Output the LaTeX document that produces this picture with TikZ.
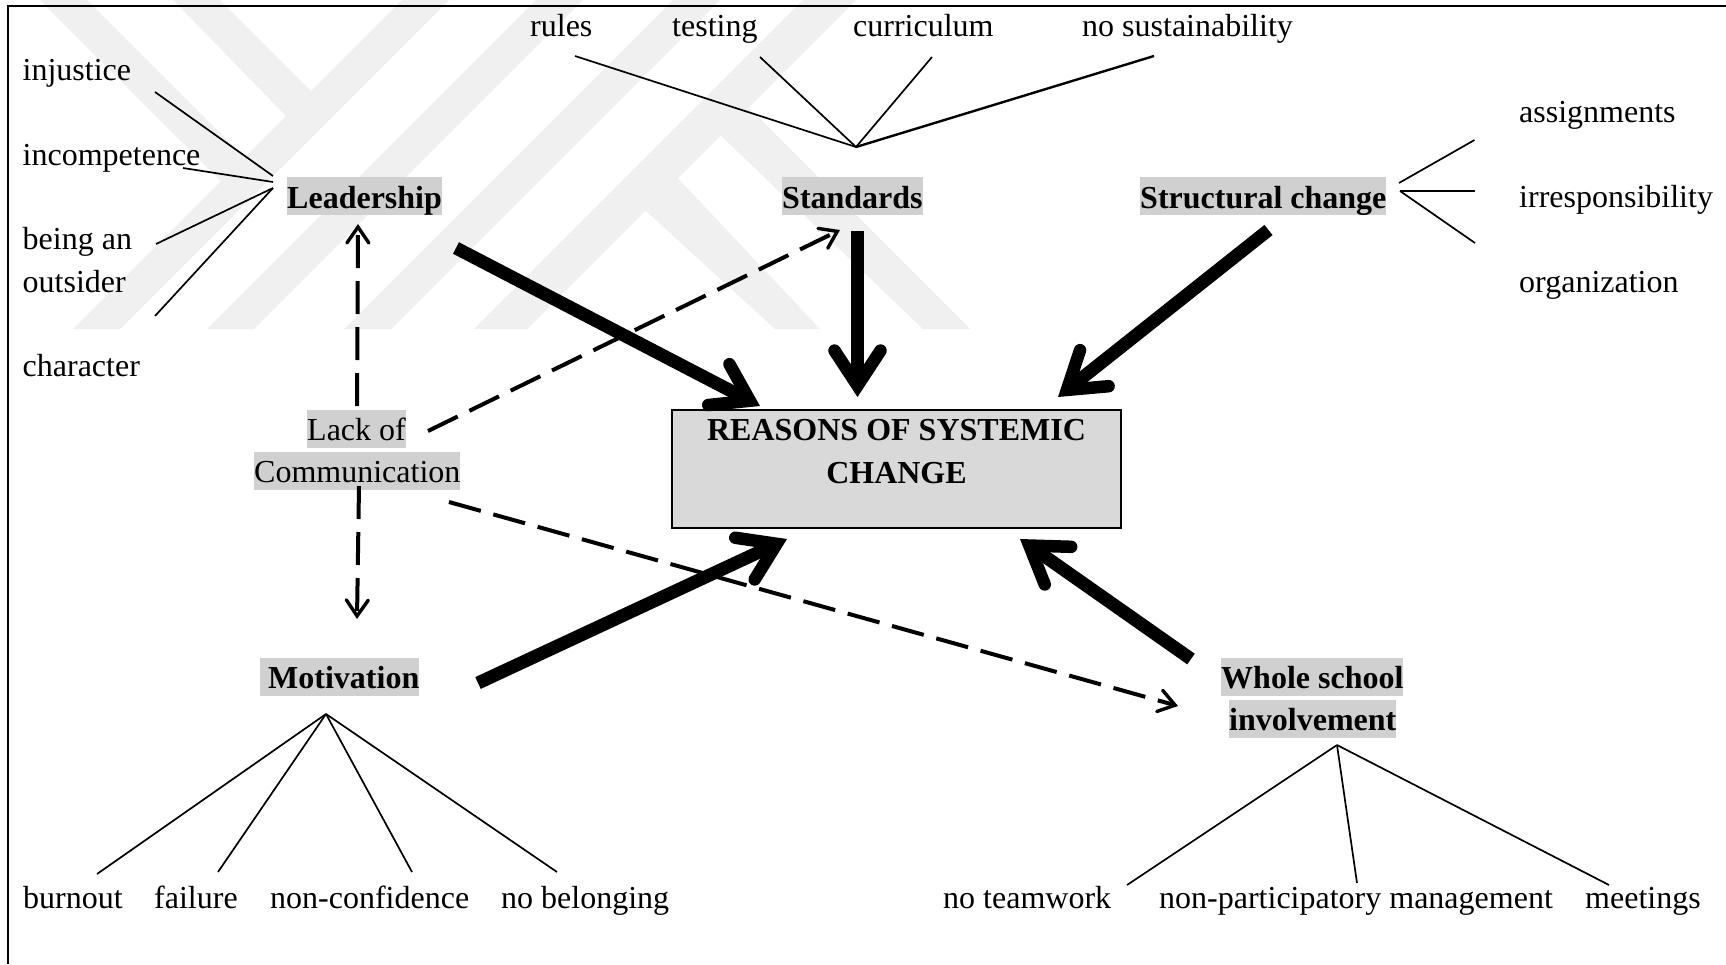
\documentclass[tikz,border=0pt]{standalone}
\usepackage{fontspec}
\setmainfont{Liberation Serif}
\usetikzlibrary{arrows.meta}
\definecolor{wm}{HTML}{F0F0F0}
\definecolor{hl}{HTML}{D0D0D0}
\definecolor{boxgray}{HTML}{D9D9D9}
\tikzset{
  lbl/.style={anchor=base west,inner sep=0pt,font=\fontsize{32}{43}\selectfont,text=black},
  hilite/.style={anchor=base west,inner xsep=0pt,inner ysep=0pt,fill=hl,text height=30pt,text depth=8pt,font=\fontsize{32}{43}\selectfont,text=black},
  hilitebold/.style={hilite,font=\fontsize{32}{43}\selectfont\bfseries},
  hiliteboldlow/.style={hilitebold,text height=31pt,text depth=7pt},
  mainbox/.style={draw=black,line width=2pt,fill=boxgray,minimum width=449pt,minimum height=118pt,inner sep=0pt,align=center,font=\fontsize{32}{43}\selectfont\bfseries,text=black},
  fan/.style={draw=black,line width=1.7pt},
  fanbold/.style={draw=black,line width=2.4pt},
  bigarrow/.style={draw=black,line width=13pt,-{Straight Barb[length=35pt,width=46pt,line width=12.5pt,line cap=round,line join=miter]}},
  dasharrow/.style={draw=black,line width=4pt,dash pattern=on 33pt off 13pt,-{Straight Barb[length=16pt,width=22pt,line width=3.4pt,line cap=round,line join=miter]}},
}
\begin{document}
\begin{tikzpicture}[x=1pt,y=-1pt]
\useasboundingbox (0,0) rectangle (1726,964);
\fill[white] (0,0) rectangle (1726,964);
% watermark
\foreach \c/\w in {402/47,536/47,673/47,803/53}{
  \fill[wm] ({\c-329},329) -- ({\c+\w-329},329) -- ({\c+\w},0) -- (\c,0) -- cycle;
}
\fill[wm] (40,0) -- (87,0) -- (262,175) -- (225,185) -- cycle;
\fill[wm] (173,0) -- (220,0) -- (318,98) -- (290,120) -- cycle;
\fill[wm] (645,210) -- (672,172) -- (820,329) -- (775,329) -- cycle;
\fill[wm] (716,131) -- (742,101) -- (970,329) -- (923,329) -- cycle;
% frame
\draw[line width=2pt,black] (8,964) -- (8,6) -- (1726,6);

% labels
\node[lbl] (injustice) at (22.5,80.5) {injustice};
\node[lbl] (incompetence) at (22.5,165) {incompetence};
\node[lbl] (beingan) at (22.5,249) {being an};
\node[lbl] (outsider) at (22.5,292) {outsider};
\node[lbl] (character) at (22.5,376) {character};
\node[lbl] (rules) at (530,36) {rules};
\node[lbl] (testing) at (672,36) {testing};
\node[lbl] (curriculum) at (853,36) {curriculum};
\node[lbl] (nosust) at (1082,36) {no sustainability};
\node[lbl] (assign) at (1519,122) {assignments};
\node[lbl] (irresp) at (1519,207) {irresponsibility};
\node[lbl] (organ) at (1519,292) {organization};
\node[lbl] (burnout) at (23,908) {burnout};
\node[lbl] (failure) at (154,908) {failure};
\node[lbl] (nonconf) at (270,908) {non-confidence};
\node[lbl] (nobelong) at (501,908) {no belonging};
\node[lbl] (noteam) at (943,908) {no teamwork};
\node[lbl] (nonpart) at (1159,908) {non-participatory management};
\node[lbl] (meetings) at (1585,908) {meetings};

% highlighted nodes
\node[hiliteboldlow] (leadership) at (287,208) {Leadership};
\node[hiliteboldlow] (standards) at (782,208) {Standards};
\node[hiliteboldlow] (structural) at (1140,208) {Structural change};
\node[hilitebold] (motivation) at (260,688) {\hspace{8pt}Motivation};
\node[hilitebold] (whole) at (1221,688) {Whole school};
\node[hilitebold] (involvement) at (1229,730) {involvement};
\node[hilite] (lack) at (307,440) {Lack of};
\node[hilite] (comm) at (254,482) {Communication};
\node[mainbox] (box) at (896.5,469) {REASONS OF SYSTEMIC\\CHANGE\\[-7pt]\mbox{}};

% connector end points
\coordinate (hubL1) at (273,176);
\coordinate (hubL2) at (273,182);
\coordinate (hubL3) at (273,188);
\coordinate (aInj) at (155,92);
\coordinate (aInc) at (183,168);
\coordinate (aBei) at (156,244);
\coordinate (aCha) at (155,316);
\coordinate (hubS) at (856,147);
\coordinate (aRul) at (575,56);
\coordinate (aTes) at (760,57);
\coordinate (aCur) at (932,57);
\coordinate (aNos) at (1154,56);
\coordinate (hubC1) at (1399,183);
\coordinate (hubC2) at (1400,191);
\coordinate (aAss) at (1474.5,140);
\coordinate (aIrr) at (1475,191);
\coordinate (aOrg) at (1475,243);
\coordinate (hubM) at (326,714);
\coordinate (aBur) at (97,874);
\coordinate (aFai) at (218,872);
\coordinate (aNco) at (412,872);
\coordinate (aNob) at (557,872);
\coordinate (hubW) at (1337,745);
\coordinate (aTea) at (1127,885);
\coordinate (aPar) at (1357,883);
\coordinate (aMee) at (1609,885);

\draw[fan] (aInj) -- (hubL1);
\draw[fan] (aInc) -- (hubL2);
\draw[fan] (aBei) -- (hubL3);
\draw[fan] (aCha) -- (hubL3);
\draw[fan] (aRul) -- (hubS);
\draw[fan] (aTes) -- (hubS);
\draw[fan] (aCur) -- (hubS);
\draw[fanbold] (aNos) -- (hubS);
\draw[fan] (hubC1) -- (aAss);
\draw[fanbold] (hubC2) -- (aIrr);
\draw[fan] (hubC2) -- (aOrg);
\draw[fan] (hubM) -- (aBur);
\draw[fan] (hubM) -- (aFai);
\draw[fan] (hubM) -- (aNco);
\draw[fan] (hubM) -- (aNob);
\draw[fan] (hubW) -- (aTea);
\draw[fan] (hubW) -- (aPar);
\draw[fan] (hubW) -- (aMee);

% dashed arrows
\coordinate (dUpS) at (357,406);
\coordinate (dUpE) at (358,224);
\coordinate (dDnS) at (359,486);
\coordinate (dDnE) at (357,619);
\coordinate (dStS) at (428,431);
\coordinate (dStE) at (840,230);
\coordinate (dWhS) at (449,502);
\coordinate (dWhE) at (1178,706);
\draw[dasharrow] (dUpS) -- (dUpE);
\draw[dasharrow] (dDnS) -- (dDnE);
\draw[dasharrow] (dStS) -- (dStE);
\draw[dasharrow] (dWhS) -- (dWhE);

% thick arrows
\coordinate (tLs) at (456,248);
\coordinate (tLe) at (760,406);
\coordinate (tSs) at (857.5,231);
\coordinate (tSe) at (857.5,397);
\coordinate (tCs) at (1268.5,230);
\coordinate (tCe) at (1058,397);
\coordinate (tMs) at (478,683);
\coordinate (tMe) at (787,539);
\coordinate (tWs) at (1191,659);
\coordinate (tWe) at (1020,539);
\draw[bigarrow] (tLs) -- (tLe);
\draw[bigarrow] (tSs) -- (tSe);
\draw[bigarrow] (tCs) -- (tCe);
\draw[bigarrow] (tMs) -- (tMe);
\draw[bigarrow] (tWs) -- (tWe);
\end{tikzpicture}
\end{document}
